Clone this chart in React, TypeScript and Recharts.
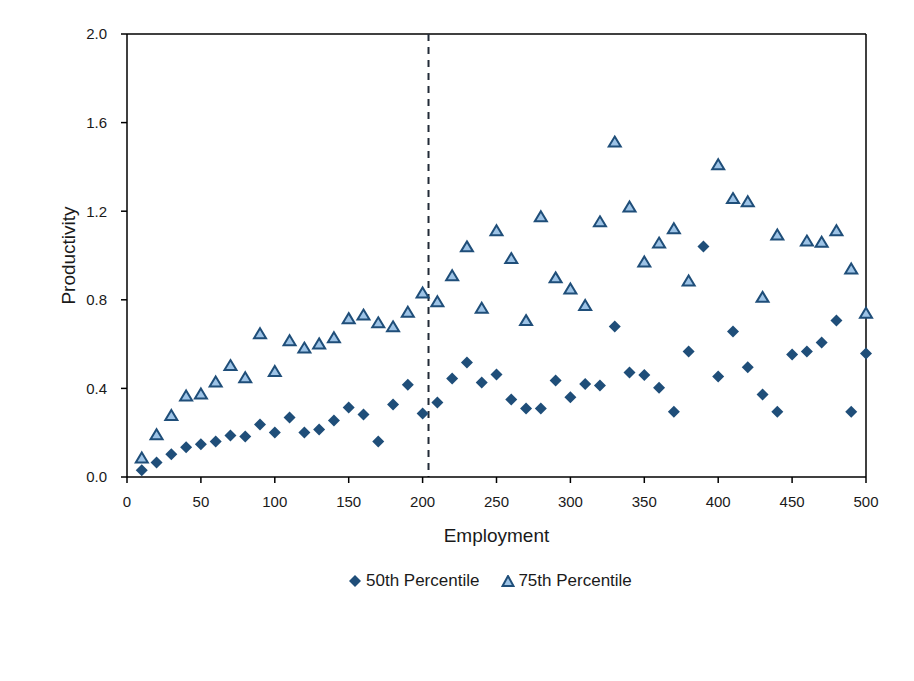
import React from 'react';
import {
  ScatterChart,
  Scatter,
  XAxis,
  YAxis,
  ReferenceLine,
  Legend,
} from 'recharts';

const employment = [
  10, 20, 30, 40, 50, 60, 70, 80, 90, 100,
  110, 120, 130, 140, 150, 160, 170, 180, 190, 200,
  210, 220, 230, 240, 250, 260, 270, 280, 290, 300,
  310, 320, 330, 340, 350, 360, 370, 380, 390, 400,
  410, 420, 430, 440, 450, 460, 470, 480, 490, 500,
];

const p50 = [
  0.03, 0.066, 0.103, 0.134, 0.148, 0.16, 0.187, 0.183, 0.237, 0.201,
  0.269, 0.201, 0.215, 0.255, 0.314, 0.282, 0.16, 0.327, 0.417, 0.287,
  0.336, 0.445, 0.517, 0.427, 0.463, 0.35, 0.309, 0.309, 0.436, 0.36,
  0.42, 0.413, 0.68, 0.472, 0.461, 0.403, 0.295, 0.567, 1.041, 0.454,
  0.657, 0.495, 0.372, 0.295, 0.553, 0.567, 0.607, 0.707, 0.295, 0.558,
];

const p75: (number | null)[] = [
  0.086, 0.191, 0.278, 0.366, 0.375, 0.429, 0.503, 0.448, 0.647, 0.476,
  0.615, 0.582, 0.601, 0.629, 0.715, 0.731, 0.696, 0.678, 0.744, 0.831,
  0.791, 0.909, 1.039, 0.762, 1.112, 0.986, 0.706, 1.175, 0.899, 0.849,
  0.774, 1.152, 1.512, 1.219, 0.971, 1.056, 1.121, 0.885, null, 1.41,
  1.257, 1.243, 0.811, 1.093, null, 1.065, 1.06, 1.112, 0.939, 0.739,
];

const xTicks = [0, 50, 100, 150, 200, 250, 300, 350, 400, 450, 500];
const yTicks = [0, 0.4, 0.8, 1.2, 1.6, 2.0];
const thresholdX = 204;

const seriesNames = ['50th Percentile', '75th Percentile'];

const p50Data = employment.map((x, i) => ({ x, y: p50[i] }));
const p75Data = employment
  .map((x, i) => ({ x, y: p75[i] }))
  .filter((d) => d.y !== null);

const DARK = '#1F4E79';
const LIGHT = '#9DC3E6';
const FONT = '"Liberation Sans", Arial, sans-serif';
const TEXT = '#1a1a1a';

const Diamond = (props: any) => {
  const { cx, cy } = props;
  if (cx == null || cy == null) return null;
  const h = 6;
  return (
    <polygon
      points={`${cx},${cy - h} ${cx + h},${cy} ${cx},${cy + h} ${cx - h},${cy}`}
      fill={DARK}
    />
  );
};

const Triangle = (props: any) => {
  const { cx, cy } = props;
  if (cx == null || cy == null) return null;
  return (
    <polygon
      points={`${cx},${cy - 5.5} ${cx + 6},${cy + 4.5} ${cx - 6},${cy + 4.5}`}
      fill={LIGHT}
      stroke={DARK}
      strokeWidth={2}
      strokeLinejoin="miter"
    />
  );
};

const XTick = (props: any) => {
  const { x, y, payload } = props;
  return (
    <text
      x={x}
      y={y}
      dy="0.71em"
      textAnchor="middle"
      fontFamily={FONT}
      fontSize={15}
      fill={TEXT}
    >
      {payload.value}
    </text>
  );
};

const YTick = (props: any) => {
  const { x, y, payload } = props;
  return (
    <text
      x={x}
      y={y}
      dy="0.355em"
      textAnchor="end"
      fontFamily={FONT}
      fontSize={15}
      fill={TEXT}
    >
      {Number(payload.value).toFixed(1)}
    </text>
  );
};

const LegendContent = () => (
  <div
    style={{
      display: 'flex',
      alignItems: 'center',
      paddingLeft: 349,
      fontFamily: FONT,
      fontSize: 17,
      color: TEXT,
      lineHeight: '20px',
    }}
  >
    <svg width={12} height={12} style={{ marginRight: 5 }}>
      <polygon points="6,0 12,6 6,12 0,6" fill={DARK} />
    </svg>
    <span>{seriesNames[0]}</span>
    <svg width={14} height={12} style={{ marginLeft: 22, marginRight: 3 }}>
      <polygon points="7,1 12.5,11 1.5,11" fill={LIGHT} stroke={DARK} strokeWidth={2} />
    </svg>
    <span>{seriesNames[1]}</span>
  </div>
);

const YLabel = (props: any) => {
  const vb = props.viewBox || {};
  const cx = 68;
  const cy = vb.y + vb.height / 2;
  return (
    <text
      x={cx}
      y={cy}
      transform={`rotate(-90, ${cx}, ${cy})`}
      textAnchor="middle"
      dy="0.355em"
      fontFamily={FONT}
      fontSize={19}
      fill={TEXT}
    >
      Productivity
    </text>
  );
};

export default function App() {
  return (
    <div style={{ position: 'absolute', left: 0, top: 0, background: '#fff' }}>
      <ScatterChart
        width={914}
        height={681}
        margin={{ top: 34, right: 48, left: 0, bottom: 88 }}
      >
        <XAxis
          type="number"
          dataKey="x"
          domain={[0, 500]}
          ticks={xTicks}
          interval={0}
          height={116}
          tickSize={6}
          tickMargin={13}
          axisLine={{ stroke: '#000', strokeWidth: 1.5 }}
          tickLine={{ stroke: '#000', strokeWidth: 1.5 }}
          tick={<XTick />}
          label={{
            value: 'Employment',
            position: 'center',
            fill: TEXT,
            fontSize: 19,
            fontFamily: FONT,
          }}
        />
        <YAxis
          type="number"
          dataKey="y"
          domain={[0, 2]}
          ticks={yTicks}
          interval={0}
          width={127}
          tickSize={6}
          tickMargin={14}
          axisLine={{ stroke: '#000', strokeWidth: 1.5 }}
          tickLine={{ stroke: '#000', strokeWidth: 1.5 }}
          tick={<YTick />}
          label={<YLabel />}
        />
        <ReferenceLine y={2} stroke="#000" strokeWidth={1.5} />
        <ReferenceLine x={500} stroke="#000" strokeWidth={1.5} />
        <ReferenceLine
          segment={[
            { x: thresholdX, y: 2 },
            { x: thresholdX, y: 0 },
          ]}
          stroke="#222B38"
          strokeWidth={2}
          strokeDasharray="7 6"
        />
        <Legend
          layout="horizontal"
          verticalAlign="middle"
          align="center"
          wrapperStyle={{ top: 571, left: 0, width: 914 }}
          content={<LegendContent />}
        />
        <Scatter
          name={seriesNames[0]}
          data={p50Data}
          shape={<Diamond />}
          isAnimationActive={false}
        />
        <Scatter
          name={seriesNames[1]}
          data={p75Data}
          shape={<Triangle />}
          isAnimationActive={false}
        />
      </ScatterChart>
    </div>
  );
}
